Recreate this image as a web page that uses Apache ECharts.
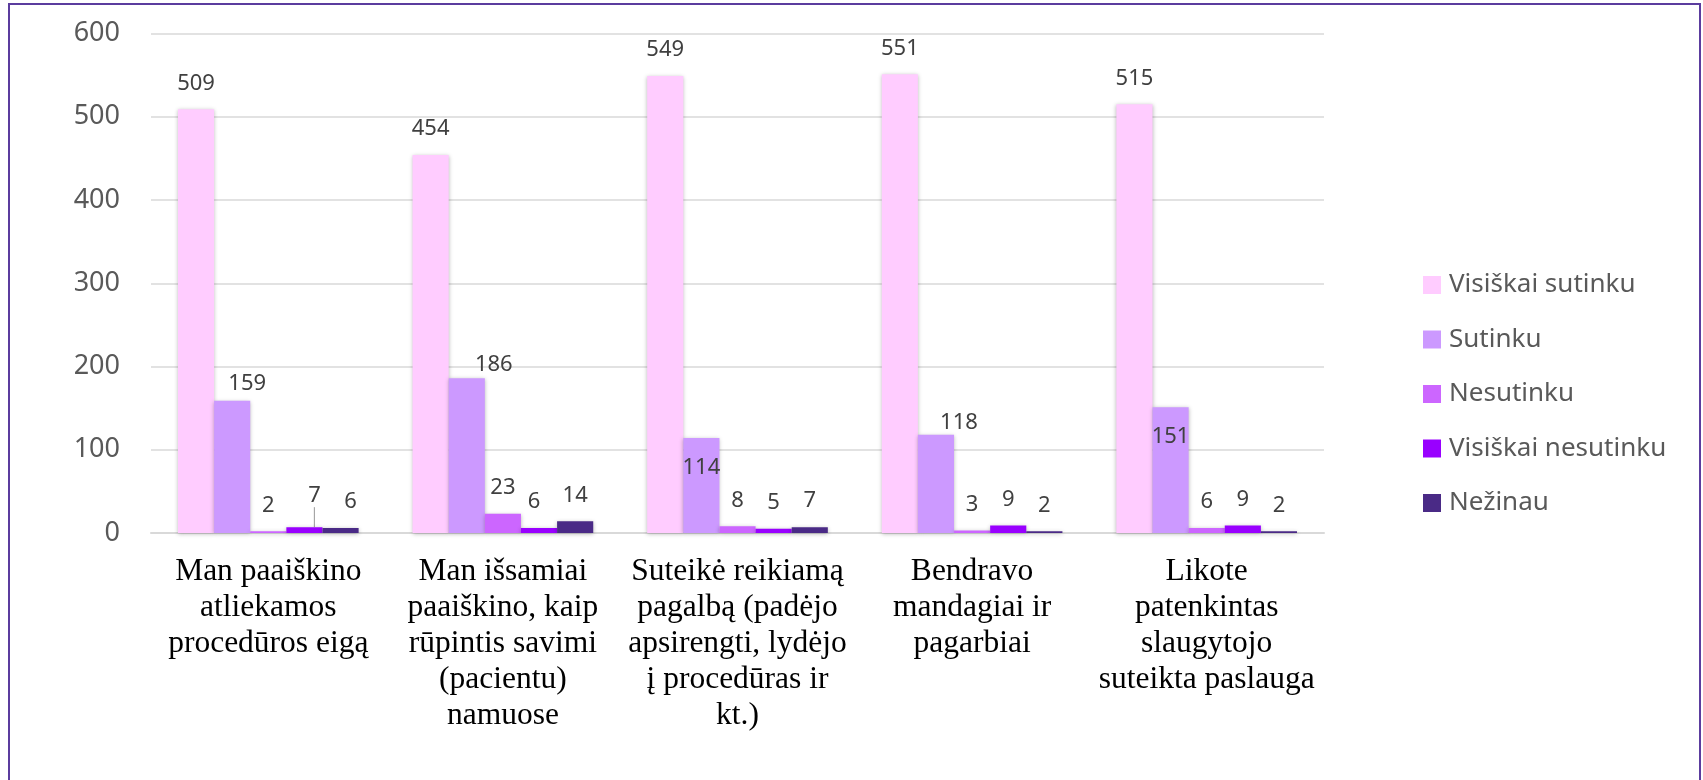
<!DOCTYPE html>
<html>
<head>
<meta charset="utf-8">
<script src="https://cdn.jsdelivr.net/npm/echarts@6/dist/echarts.min.js"></script>
<style>
html,body{margin:0;padding:0;background:#fff;}
#chart{width:1703px;height:780px;}
</style>
</head>
<body>
<div id="chart"></div>
<script>
// ---- data ----
var categories = [
  "Man paaiškino\natliekamos\nprocedūros eigą",
  "Man išsamiai\npaaiškino, kaip\nrūpintis savimi\n(pacientu)\nnamuose",
  "Suteikė reikiamą\npagalbą (padėjo\napsirengti, lydėjo\nį procedūras ir\nkt.)",
  "Bendravo\nmandagiai ir\npagarbiai",
  "Likote\npatenkintas\nslaugytojo\nsuteikta paslauga"
];
var seriesNames = ["Visiškai sutinku", "Sutinku", "Nesutinku", "Visiškai nesutinku", "Nežinau"];
var visiskaiSutinku   = [509, 454, 549, 551, 515];
var sutinku           = [159, 186, 114, 118, 151];
var nesutinku         = [2, 23, 8, 3, 6];
var visiskaiNesutinku = [7, 6, 5, 9, 9];
var nezinau           = [6, 14, 7, 2, 2];
var yTicks = [0, 100, 200, 300, 400, 500, 600];

// ---- styling ----
var colors = ["#FFCCFF", "#CC99FF", "#CC66FF", "#9900FF", "#4A2A86"];
// label displacements (px), keyed "series,category"
var labelShift = {
  "1,0": [15, 9], "1,1": [27, 13], "1,2": [0, 56], "1,3": [23, 14], "1,4": [0, 55],
  "3,0": [10, -5], "3,1": [-5, 0], "4,0": [10, 0]
};
// labels that keep a leader line to their bar
var leaderLines = {"3,0": true};

var allValues = [visiskaiSutinku, sutinku, nesutinku, visiskaiNesutinku, nezinau];
var chart = echarts.init(document.getElementById('chart'), null, {renderer: 'canvas'});

var series = allValues.map(function (vals, si) {
  return {
    name: seriesNames[si],
    type: 'bar',
    data: vals.map(function (v, ci) {
      var item = {value: v};
      if (leaderLines[si + ',' + ci]) {
        item.labelLine = {show: true, lineStyle: {color: '#A6A6A6', width: 1.2}};
      }
      return item;
    }),
    barGap: '0%',
    barCategoryGap: '23%',
    itemStyle: {
      color: colors[si],
      shadowBlur: 4,
      shadowColor: 'rgba(0,0,0,0.28)',
      shadowOffsetY: 1
    },
    label: {
      show: true,
      position: 'top',
      distance: 15,
      fontFamily: 'Noto Sans',
      fontSize: 22,
      lineHeight: 22,
      color: '#404040'
    },
    labelLine: {show: false},
    labelLayout: function (p) {
      var s = labelShift[si + ',' + p.dataIndex];
      if (s) return {dx: s[0], dy: s[1]};
      return {};
    }
  };
});

var option = {
  animation: false,
  backgroundColor: '#ffffff',
  graphic: [{
    type: 'rect',
    shape: {x: 9, y: 4, width: 1691, height: 800},
    style: {fill: 'none', stroke: '#5B3C9E', lineWidth: 2},
    silent: true
  }],
  legend: {
    orient: 'vertical',
    left: 1418,
    top: 267,
    itemWidth: 18,
    itemHeight: 18,
    itemGap: 28.5,
    icon: 'rect',
    data: seriesNames,
    textStyle: {
      fontFamily: 'Noto Sans',
      fontSize: 26,
      lineHeight: 26,
      color: '#595959',
      padding: [0, 0, 0, 3]
    }
  },
  grid: {
    left: 151,
    right: 379,
    top: 33.5,
    bottom: 247,
    containLabel: false
  },
  xAxis: {
    type: 'category',
    data: categories,
    axisLine: {show: true, lineStyle: {color: '#D9D9D9', width: 2}},
    axisTick: {show: false},
    axisLabel: {
      interval: 0,
      margin: 21,
      fontFamily: 'Liberation Serif',
      fontSize: 31.5,
      lineHeight: 36,
      color: '#000000'
    }
  },
  yAxis: {
    type: 'value',
    min: yTicks[0],
    max: yTicks[yTicks.length - 1],
    interval: yTicks[1] - yTicks[0],
    axisLine: {show: false},
    axisTick: {show: false},
    splitLine: {lineStyle: {color: '#D9D9D9', width: 1.5}},
    axisLabel: {
      margin: 31,
      fontFamily: 'Noto Sans',
      fontSize: 27,
      color: '#595959'
    }
  },
  series: series
};
chart.setOption(option);
</script>
</body>
</html>
